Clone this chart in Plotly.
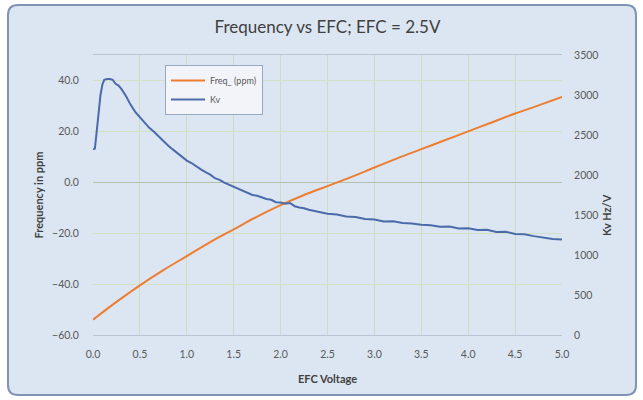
import plotly.graph_objects as go

# ---- data ----
freq_x = [0.0, 0.25, 0.5, 0.75, 1.0, 1.25, 1.5, 1.75, 2.0, 2.25, 2.5, 2.75, 3.0,
          3.25, 3.5, 3.75, 4.0, 4.25, 4.5, 4.75, 5.0]
freq_ppm = [-54.0, -47.0, -40.5, -34.5, -29.0, -23.5, -18.5, -13.5, -9.0, -5.0, -1.5,
            2.0, 5.8, 9.5, 13.0, 16.5, 20.0, 23.5, 27.0, 30.2, 33.5]

kv_x = [0.0, 0.02, 0.04, 0.06, 0.08, 0.10, 0.12, 0.15, 0.18, 0.21, 0.24, 0.27, 0.30,
        0.35, 0.40, 0.45, 0.50, 0.55, 0.60, 0.65, 0.70, 0.75, 0.80, 0.85, 0.90, 0.95,
        1.00, 1.05, 1.10, 1.15, 1.20, 1.25, 1.30, 1.35, 1.40, 1.45, 1.50, 1.55, 1.60,
        1.65, 1.70, 1.75, 1.80, 1.85, 1.90, 1.95, 2.00, 2.05, 2.10, 2.15, 2.20, 2.25,
        2.30, 2.35, 2.40, 2.50, 2.60, 2.70, 2.80, 2.90, 3.00, 3.10, 3.20, 3.30, 3.40,
        3.50, 3.60, 3.70, 3.80, 3.90, 4.00, 4.10, 4.20, 4.30, 4.40, 4.50, 4.60, 4.70,
        4.80, 4.90, 5.00]
kv_hz_v = [2320, 2330, 2550, 2800, 3000, 3130, 3190, 3200, 3200, 3190, 3140, 3120, 3080,
           2990, 2880, 2790, 2720, 2660, 2590, 2540, 2480, 2420, 2370, 2320, 2270, 2220,
           2180, 2150, 2105, 2070, 2035, 2005, 1960, 1940, 1905, 1880, 1845, 1830, 1795,
           1780, 1750, 1740, 1715, 1700, 1690, 1660, 1655, 1640, 1650, 1610, 1595, 1585,
           1565, 1550, 1540, 1515, 1505, 1480, 1475, 1450, 1445, 1420, 1422, 1400, 1395,
           1378, 1372, 1352, 1356, 1332, 1334, 1312, 1315, 1288, 1290, 1262, 1260, 1236,
           1218, 1200, 1195]

x_ticks = [0.0, 0.5, 1.0, 1.5, 2.0, 2.5, 3.0, 3.5, 4.0, 4.5, 5.0]
y_ticks = [-60, -40, -20, 0, 20, 40]
y2_ticks = [0, 500, 1000, 1500, 2000, 2500, 3000, 3500]

# ---- figure ----
W, H = 643, 400
L, R, T, B = 93, 81, 55, 65
pw, ph = W - L - R, H - T - B

def px(x):
    return (x - L) / pw

def py(y):
    return (H - B - y) / ph

fig = go.Figure()
fig.add_trace(go.Scatter(x=freq_x, y=freq_ppm, name="Freq_ (ppm)", mode="lines",
                         line=dict(color="#ed7d31", width=2, shape="spline")))
fig.add_trace(go.Scatter(x=kv_x, y=kv_hz_v, name="Kv", mode="lines", yaxis="y2",
                         line=dict(color="#4a6aaa", width=2)))

# rounded outer frame
x0, x1, y0, y1 = px(8), px(636), py(395), py(5)
rx, ry = 10 / pw, 10 / ph
path = (f"M {x0+rx},{y0} L {x1-rx},{y0} Q {x1},{y0} {x1},{y0+ry} "
        f"L {x1},{y1-ry} Q {x1},{y1} {x1-rx},{y1} L {x0+rx},{y1} "
        f"Q {x0},{y1} {x0},{y1-ry} L {x0},{y0+ry} Q {x0},{y0} {x0+rx},{y0} Z")
fig.add_shape(type="path", path=path, xref="paper", yref="paper", layer="below",
              fillcolor="#dce6f2", line=dict(color="#7f93b2", width=2))

font = "Lato, 'Open Sans', sans-serif"
tickfont = dict(size=10.5, color="#595959", family=font)

# right axis title placed as annotation (close to the tick labels, like the reference)
fig.add_annotation(text="<b>Kv Hz/V</b>", x=px(606), y=py(215), xref="paper", yref="paper",
                   textangle=-90, showarrow=False, xanchor="center", yanchor="middle",
                   font=dict(size=11, color="#404040", family=font))

fig.update_layout(
    width=W, height=H,
    margin=dict(l=L, r=R, t=T, b=B),
    paper_bgcolor="white",
    plot_bgcolor="#e4efd9",
    font=dict(family=font, color="#595959", size=11),
    title=dict(text="Frequency vs EFC; EFC = 2.5V", x=0.5, xref="paper",
               y=1 - 27 / H, yanchor="middle",
               font=dict(size=17, color="#404040", family=font)),
    showlegend=True,
    legend=dict(x=px(165), y=py(65), xanchor="left", yanchor="top",
                bgcolor="#f2f4f9", bordercolor="#9aa9c2", borderwidth=1,
                font=dict(size=9, color="#595959"), tracegroupgap=0,
                itemwidth=34),
    xaxis=dict(range=[0, 5], tickvals=x_ticks, tickformat=".1f", tickfont=tickfont,
               showgrid=True, gridcolor="#cfdcc4", gridwidth=1,
               zeroline=False, showline=True, linecolor="#b9c5d3", mirror=True,
               ticks="outside", ticklen=9, tickcolor="rgba(0,0,0,0)",
               title=dict(text="<b>EFC Voltage</b>", standoff=16,
                          font=dict(size=11, color="#404040"))),
    yaxis=dict(range=[-60, 50], tickvals=y_ticks, tickformat=".1f", tickfont=tickfont,
               showgrid=True, gridcolor="#d3e0c8", zeroline=True,
               zerolinecolor="#b5c0ae", zerolinewidth=1,
               ticks="outside", ticklen=11, tickcolor="rgba(0,0,0,0)",
               showline=False,
               title=dict(text="<b>Frequency in ppm</b>", standoff=6,
                          font=dict(size=11, color="#404040"))),
    yaxis2=dict(range=[0, 3500], tickvals=y2_ticks, overlaying="y", side="right",
                tickfont=tickfont, showgrid=False, zeroline=False,
                ticks="outside", ticklen=9, tickcolor="rgba(0,0,0,0)"),
)

fig.write_html("out.html", config={"displayModeBar": False},
               post_script="document.body.style.margin='0';")
